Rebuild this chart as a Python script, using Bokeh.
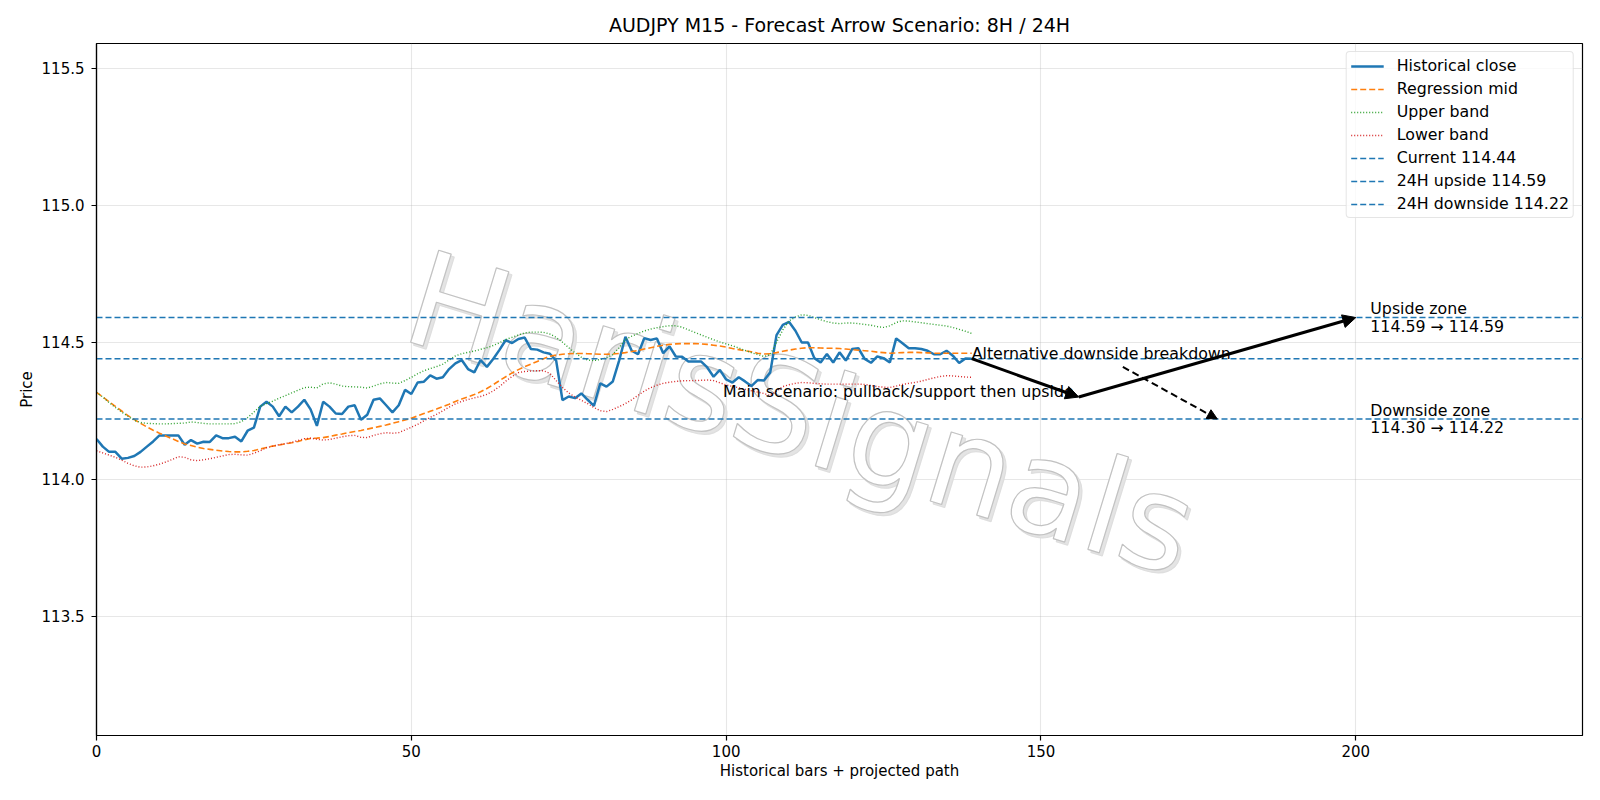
from bokeh.plotting import figure
from bokeh.models import Range1d, FixedTicker, PrintfTickFormatter, Arrow, NormalHead
from bokeh.core.properties import value
from bokeh.embed import file_html
from bokeh.resources import INLINE

FONT = "DejaVu Sans"

# ---------------- data ----------------
close = [
    114.147, 114.119, 114.100, 114.100, 114.075, 114.078, 114.085, 114.100, 114.119, 114.138,
    114.160, 114.160, 114.160, 114.160, 114.126, 114.143, 114.130, 114.137, 114.136, 114.160,
    114.150, 114.150, 114.155, 114.138, 114.177, 114.188, 114.265, 114.283, 114.265, 114.230,
    114.265, 114.244, 114.265, 114.290, 114.255, 114.195, 114.283, 114.265, 114.240, 114.238,
    114.265, 114.270, 114.217, 114.235, 114.290, 114.295, 114.270, 114.244, 114.270, 114.326,
    114.311, 114.353, 114.356, 114.379, 114.367, 114.372, 114.402, 114.423, 114.435, 114.402,
    114.390, 114.435, 114.410, 114.439, 114.472, 114.508, 114.497, 114.512, 114.517, 114.475,
    114.473, 114.463, 114.458, 114.433, 114.289, 114.302, 114.296, 114.313, 114.290, 114.268,
    114.350, 114.338, 114.357, 114.433, 114.520, 114.469, 114.456, 114.515, 114.508, 114.514,
    114.460, 114.485, 114.448, 114.447, 114.430, 114.430, 114.430, 114.408, 114.374, 114.399,
    114.364, 114.353, 114.372, 114.357, 114.340, 114.362, 114.360, 114.390, 114.526, 114.563,
    114.574, 114.542, 114.499, 114.499, 114.442, 114.426, 114.457, 114.426, 114.463, 114.433,
    114.475, 114.478, 114.439, 114.425, 114.448, 114.442, 114.426, 114.514, 114.496, 114.478,
    114.478, 114.475, 114.469, 114.456, 114.456, 114.469, 114.451, 114.424, 114.441, 114.440,
]

reg_mid = [
    114.317, 114.300, 114.283, 114.266, 114.249, 114.232, 114.218, 114.204, 114.191, 114.179,
    114.168, 114.158, 114.148, 114.138, 114.129, 114.123, 114.117, 114.112, 114.109, 114.106,
    114.103, 114.101, 114.100, 114.100, 114.102, 114.105, 114.110, 114.116, 114.121, 114.125,
    114.129, 114.133, 114.138, 114.144, 114.149, 114.150, 114.152, 114.156, 114.161, 114.165,
    114.170, 114.174, 114.178, 114.183, 114.188, 114.193, 114.198, 114.204, 114.210, 114.216,
    114.223, 114.231, 114.240, 114.248, 114.256, 114.265, 114.274, 114.284, 114.293, 114.301,
    114.309, 114.319, 114.331, 114.345, 114.360, 114.374, 114.388, 114.400, 114.411, 114.420,
    114.430, 114.440, 114.449, 114.453, 114.456, 114.458, 114.459, 114.459, 114.458, 114.457,
    114.456, 114.456, 114.457, 114.459, 114.462, 114.466, 114.470, 114.475, 114.480, 114.485,
    114.489, 114.492, 114.494, 114.495, 114.495, 114.495, 114.494, 114.492, 114.489, 114.486,
    114.482, 114.477, 114.473, 114.469, 114.465, 114.460, 114.457, 114.458, 114.462, 114.467,
    114.471, 114.475, 114.478, 114.480, 114.480, 114.479, 114.478, 114.478, 114.477, 114.475,
    114.473, 114.471, 114.469, 114.467, 114.464, 114.462, 114.460, 114.461, 114.462, 114.463,
    114.463, 114.462, 114.461, 114.460, 114.460, 114.460, 114.460, 114.460, 114.460, 114.460,
]

upper_band = [
    114.317, 114.300, 114.280, 114.262, 114.245, 114.230, 114.215, 114.207, 114.204, 114.203,
    114.202, 114.202, 114.203, 114.204, 114.205, 114.209, 114.207, 114.204, 114.202, 114.202,
    114.202, 114.202, 114.203, 114.210, 114.225, 114.245, 114.266, 114.276, 114.285, 114.296,
    114.305, 114.315, 114.325, 114.334, 114.336, 114.333, 114.348, 114.352, 114.347, 114.340,
    114.338, 114.337, 114.336, 114.333, 114.340, 114.348, 114.353, 114.351, 114.350, 114.360,
    114.372, 114.385, 114.396, 114.404, 114.411, 114.420, 114.435, 114.450, 114.458, 114.463,
    114.468, 114.474, 114.480, 114.488, 114.498, 114.510, 114.518, 114.526, 114.534, 114.537,
    114.537, 114.536, 114.530, 114.518, 114.500, 114.480, 114.461, 114.445, 114.435, 114.433,
    114.437, 114.443, 114.455, 114.480, 114.510, 114.522, 114.532, 114.541, 114.548, 114.553,
    114.557, 114.560, 114.560, 114.555, 114.545, 114.536, 114.527, 114.518, 114.509, 114.501,
    114.494, 114.487, 114.479, 114.470, 114.462, 114.455, 114.448, 114.455, 114.500, 114.545,
    114.578, 114.592, 114.600, 114.598, 114.590, 114.582, 114.575, 114.570, 114.568, 114.570,
    114.570, 114.568, 114.565, 114.562, 114.557, 114.554, 114.560, 114.572, 114.578, 114.577,
    114.574, 114.571, 114.568, 114.565, 114.562, 114.559, 114.554, 114.547, 114.540, 114.532,
]

lower_band = [
    114.104, 114.096, 114.088, 114.080, 114.070, 114.058, 114.049, 114.044, 114.045, 114.049,
    114.055, 114.063, 114.072, 114.082, 114.080, 114.071, 114.068, 114.071, 114.075, 114.080,
    114.085, 114.090, 114.091, 114.089, 114.088, 114.095, 114.104, 114.115, 114.121, 114.126,
    114.130, 114.135, 114.141, 114.148, 114.150, 114.146, 114.143, 114.145, 114.150, 114.155,
    114.159, 114.160, 114.153, 114.152, 114.160, 114.166, 114.170, 114.168, 114.170, 114.180,
    114.190, 114.200, 114.213, 114.226, 114.237, 114.250, 114.263, 114.275, 114.284, 114.291,
    114.297, 114.302, 114.310, 114.322, 114.338, 114.358, 114.375, 114.389, 114.393, 114.395,
    114.396, 114.396, 114.386, 114.360, 114.335, 114.315, 114.300, 114.288, 114.276, 114.262,
    114.250, 114.247, 114.255, 114.265, 114.276, 114.290, 114.306, 114.322, 114.334, 114.343,
    114.350, 114.354, 114.357, 114.359, 114.360, 114.360, 114.361, 114.362, 114.360, 114.352,
    114.344, 114.339, 114.334, 114.328, 114.323, 114.318, 114.313, 114.305, 114.322, 114.338,
    114.345, 114.350, 114.353, 114.352, 114.350, 114.348, 114.347, 114.347, 114.347, 114.347,
    114.347, 114.347, 114.346, 114.342, 114.338, 114.336, 114.335, 114.340, 114.346, 114.350,
    114.353, 114.358, 114.364, 114.370, 114.375, 114.378, 114.377, 114.375, 114.373, 114.372,
]

bars = list(range(len(close)))

current_price = 114.44
upside_price = 114.59
downside_price = 114.22

x_limits = [0, 236]
y_limits = [113.065, 115.59]
x_ticks = [0, 50, 100, 150, 200]
y_ticks = [113.5, 114.0, 114.5, 115.0, 115.5]

# projected scenario path: current -> pullback -> upside target
main_path_x = [139, 156, 200]
main_path_y = [114.44, 114.30, 114.59]
# alternative downside breakdown arrow
alt_path_x = [163, 178]
alt_path_y = [114.41, 114.22]

title_text = "AUDJPY M15 - Forecast Arrow Scenario: 8H / 24H"
x_label = "Historical bars + projected path"
y_label = "Price"

alt_label = "Alternative downside breakdown"
alt_label_pos = (139, 114.44)
main_label = "Main scenario: pullback/support then upside"
main_label_pos = (155.2, 114.30)
zone_label_x = 202.3
upside_zone_text = "Upside zone\n114.59 \u2192 114.59"
downside_zone_text = "Downside zone\n114.30 \u2192 114.22"

watermark_text = "HarisSignals"
watermark_pos = (111.9, 114.24)

# ---------------- figure ----------------
p = figure(
    width=1600, height=800,
    x_range=Range1d(x_limits[0], x_limits[1]),
    y_range=Range1d(y_limits[0], y_limits[1]),
    output_backend="svg", toolbar_location=None,
    min_border_left=96, min_border_right=18, min_border_top=43, min_border_bottom=65,
    title=title_text,
)
p.background_fill_color = "white"
p.border_fill_color = "white"
p.outline_line_color = "black"
p.outline_line_width = 1.2
p.outline_line_alpha = 1.0

p.title.text_font = FONT
p.title.text_font_size = "19px"
p.title.text_font_style = "normal"
p.title.align = "center"
p.title.text_color = "black"
p.title.standoff = 16

p.xaxis.ticker = FixedTicker(ticks=x_ticks)
p.yaxis.ticker = FixedTicker(ticks=y_ticks)
p.xaxis.formatter = PrintfTickFormatter(format="%d")
p.yaxis.formatter = PrintfTickFormatter(format="%.1f")
p.xaxis.axis_label = x_label
p.yaxis.axis_label = y_label
for ax in (p.xaxis[0], p.yaxis[0]):
    ax.axis_line_color = "black"
    ax.axis_line_width = 1.2
    ax.major_tick_line_color = "black"
    ax.major_tick_line_width = 1.2
    ax.major_tick_out = 5
    ax.major_tick_in = 0
    ax.minor_tick_line_color = None
    ax.major_label_text_font = FONT
    ax.major_label_text_font_size = "15px"
    ax.major_label_text_color = "black"
    ax.axis_label_text_font = FONT
    ax.axis_label_text_font_size = "15px"
    ax.axis_label_text_font_style = "normal"
    ax.axis_label_text_color = "black"
p.xaxis.major_label_standoff = 4
p.xaxis.axis_label_standoff = 2
p.yaxis.major_label_standoff = 7
p.yaxis.axis_label_standoff = 3

p.grid.grid_line_color = "#b0b0b0"
p.grid.grid_line_alpha = 0.3
p.grid.grid_line_width = 1.1

# ---------------- watermark ----------------
wm_kw = dict(angle=-17, angle_units="deg", text_font=value(FONT), text_font_size="132px",
             text_align="center", text_baseline="middle")
shadow = p.text(x=[watermark_pos[0]], y=[watermark_pos[1]], text=[watermark_text],
                x_offset=3, y_offset=3, text_color="#e4e4e4", **wm_kw)
wm = p.text(x=[watermark_pos[0]], y=[watermark_pos[1]], text=[watermark_text],
            text_color="white", **wm_kw)
if "text_outline_color" in wm.glyph.properties():
    wm.glyph.text_outline_color = "#c2c2c2"
    shadow.glyph.text_outline_color = "#dedede"

# ---------------- series ----------------
p.line(bars, close, line_color="#1f77b4", line_width=2.5, legend_label="Historical close")
p.line(bars, reg_mid, line_color="#ff7f0e", line_width=1.6, line_dash="6 3",
       legend_label="Regression mid")
p.line(bars, upper_band, line_color="#2ca02c", line_width=1.4, line_dash="1 2",
       legend_label="Upper band")
p.line(bars, lower_band, line_color="#d62728", line_width=1.4, line_dash="1 2",
       legend_label="Lower band")

p.line(x_limits, [current_price, current_price], line_color="#1f77b4", line_width=1.5,
       line_dash="6 3", legend_label=f"Current {current_price:.2f}")
p.line(x_limits, [upside_price, upside_price], line_color="#1f77b4", line_width=1.5,
       line_dash="6 3", legend_label=f"24H upside {upside_price:.2f}")
p.line(x_limits, [downside_price, downside_price], line_color="#1f77b4", line_width=1.5,
       line_dash="6 3", legend_label=f"24H downside {downside_price:.2f}")

# ---------------- arrows ----------------
for i in range(len(main_path_x) - 1):
    p.add_layout(Arrow(
        end=NormalHead(size=13, fill_color="black", line_color="black", line_width=1),
        x_start=main_path_x[i], y_start=main_path_y[i],
        x_end=main_path_x[i + 1], y_end=main_path_y[i + 1],
        line_color="black", line_width=3))
p.add_layout(Arrow(
    end=NormalHead(size=10, fill_color="black", line_color="black", line_width=1),
    x_start=alt_path_x[0], y_start=alt_path_y[0],
    x_end=alt_path_x[1], y_end=alt_path_y[1],
    line_color="black", line_width=2, line_dash="7 4"))

# ---------------- annotation texts ----------------
txt_kw = dict(text_font=value(FONT), text_font_size="15.8px", text_color="black")
p.text(x=[alt_label_pos[0]], y=[alt_label_pos[1]], text=[alt_label],
       text_align="left", text_baseline="alphabetic", y_offset=-5, **txt_kw)
p.text(x=[main_label_pos[0]], y=[main_label_pos[1]], text=[main_label],
       text_align="right", text_baseline="alphabetic", y_offset=-6, **txt_kw)
p.text(x=[zone_label_x], y=[upside_price], text=[upside_zone_text],
       text_align="left", text_baseline="middle", text_line_height=0.94, **txt_kw)
p.text(x=[zone_label_x], y=[downside_price], text=[downside_zone_text],
       text_align="left", text_baseline="middle", text_line_height=0.94, **txt_kw)

# ---------------- legend ----------------
leg = p.legend[0]
leg.location = "top_right"
leg.margin = 8
leg.padding = 4
leg.spacing = 4
leg.label_height = 18
leg.glyph_height = 18
leg.glyph_width = 33
leg.label_standoff = 13
leg.label_text_font = FONT
leg.label_text_font_size = "15.8px"
leg.label_text_color = "black"
leg.border_line_color = "#cccccc"
leg.border_line_width = 1
leg.border_radius = 4
leg.background_fill_color = "white"
leg.background_fill_alpha = 0.8

open("out.html", "w").write(file_html(p, INLINE))
